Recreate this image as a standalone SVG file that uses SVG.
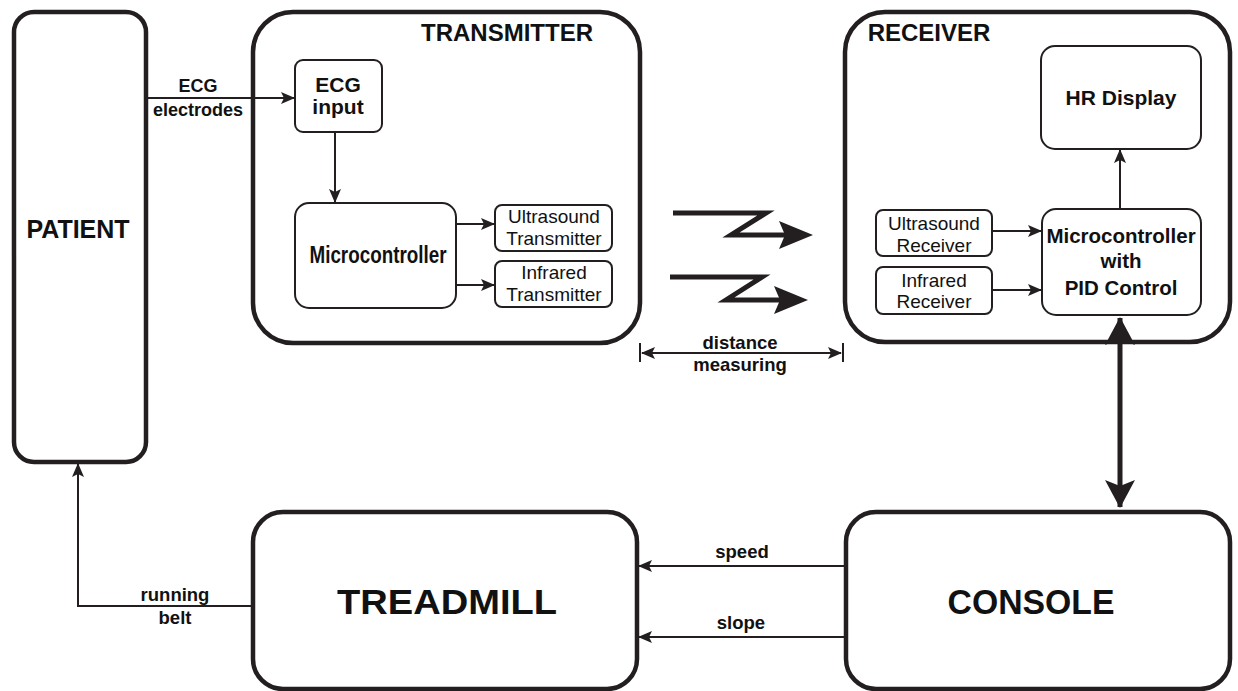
<svg xmlns="http://www.w3.org/2000/svg" width="1238" height="691" viewBox="0 0 1238 691">
<defs>
<style>
.big{fill:#fff;stroke:#231f20;stroke-width:4.5}
.small{fill:#fff;stroke:#231f20;stroke-width:2}
.ln{fill:none;stroke:#231f20;stroke-width:2}
.t{font-family:"Liberation Sans",Arial,sans-serif;fill:#111;text-anchor:middle}
.b{font-weight:bold}
</style>
<marker id="ah" viewBox="0 0 14 12" refX="13" refY="6" markerWidth="14" markerHeight="12" markerUnits="userSpaceOnUse" orient="auto">
<path d="M0,0 L14,6 L0,12 L3,6 Z" fill="#231f20"/>
</marker>
<marker id="ahs" viewBox="0 0 14 12" refX="13" refY="6" markerWidth="14" markerHeight="12" markerUnits="userSpaceOnUse" orient="auto-start-reverse">
<path d="M0,0 L14,6 L0,12 L3,6 Z" fill="#231f20"/>
</marker>
<marker id="big" viewBox="0 0 28 30" refX="27" refY="15" markerWidth="28" markerHeight="30" markerUnits="userSpaceOnUse" orient="auto-start-reverse">
<path d="M0,0 L28,15 L0,30 L6,15 Z" fill="#231f20"/>
</marker>
</defs>

<g id="patient">
<rect class="big" x="14" y="12" width="132" height="450" rx="20"/>
<text class="t b" x="78" y="238" font-size="25">PATIENT</text>
</g>

<g id="transmitter">
<rect class="big" x="253" y="12" width="387" height="331" rx="40"/>
<text class="t b" x="507" y="41" font-size="24">TRANSMITTER</text>
</g>
<g id="ecg-input">
<rect class="small" x="295" y="60" width="87" height="72" rx="8"/>
<text class="t b" x="338" y="92" font-size="21">ECG</text>
<text class="t b" x="338" y="114" font-size="21">input</text>
</g>
<g id="tx-mcu">
<rect class="small" x="295" y="203" width="161" height="105" rx="14"/>
<text class="t b" x="378" y="263" font-size="24" textLength="137" lengthAdjust="spacingAndGlyphs">Microcontroller</text>
</g>
<g id="us-tx">
<rect class="small" x="495" y="205" width="117" height="46" rx="7"/>
<text class="t" x="554" y="223" font-size="19">Ultrasound</text>
<text class="t" x="554" y="245" font-size="19">Transmitter</text>
</g>
<g id="ir-tx">
<rect class="small" x="495" y="261" width="117" height="46" rx="7"/>
<text class="t" x="554" y="279" font-size="19">Infrared</text>
<text class="t" x="554" y="301" font-size="19">Transmitter</text>
</g>

<g id="receiver">
<rect class="big" x="845" y="12" width="385" height="330" rx="40"/>
<text class="t b" x="929" y="41" font-size="24">RECEIVER</text>
</g>
<g id="hr-display">
<rect class="small" x="1041" y="46" width="160" height="103" rx="14"/>
<text class="t b" x="1121" y="105" font-size="21">HR Display</text>
</g>
<g id="us-rx">
<rect class="small" x="876" y="210" width="116" height="46" rx="7"/>
<text class="t" x="934" y="230" font-size="19">Ultrasound</text>
<text class="t" x="934" y="252" font-size="19">Receiver</text>
</g>
<g id="ir-rx">
<rect class="small" x="876" y="267" width="116" height="47" rx="7"/>
<text class="t" x="934" y="287" font-size="19">Infrared</text>
<text class="t" x="934" y="308" font-size="19">Receiver</text>
</g>
<g id="rx-mcu">
<rect class="small" x="1042" y="209" width="159" height="106" rx="14"/>
<text class="t b" x="1121" y="243" font-size="20.5">Microcontroller</text>
<text class="t b" x="1121" y="268" font-size="20.5">with</text>
<text class="t b" x="1121" y="295" font-size="20.5">PID Control</text>
</g>

<g id="treadmill">
<rect class="big" x="253" y="512" width="384" height="177" rx="30"/>
<text class="t b" x="447" y="614" font-size="35" textLength="220" lengthAdjust="spacingAndGlyphs">TREADMILL</text>
</g>
<g id="console">
<rect class="big" x="846" y="512" width="384" height="177" rx="30"/>
<text class="t b" x="1031" y="614" font-size="35" textLength="167" lengthAdjust="spacingAndGlyphs">CONSOLE</text>
</g>

<g id="connectors">
<line class="ln" x1="148" y1="98" x2="294" y2="98" marker-end="url(#ah)"/>
<text class="t b" x="198" y="92" font-size="18">ECG</text>
<text class="t b" x="198" y="116" font-size="18">electrodes</text>
<line class="ln" x1="335" y1="133" x2="335" y2="202" marker-end="url(#ah)"/>
<line class="ln" x1="457" y1="224" x2="494" y2="224" marker-end="url(#ah)"/>
<line class="ln" x1="457" y1="285" x2="494" y2="285" marker-end="url(#ah)"/>
<line class="ln" x1="993" y1="231" x2="1041" y2="231" marker-end="url(#ah)"/>
<line class="ln" x1="993" y1="290" x2="1041" y2="290" marker-end="url(#ah)"/>
<line class="ln" x1="1120" y1="208" x2="1120" y2="150" marker-end="url(#ah)"/>

<path d="M673,213 L766,213 L731,235 L786,235" fill="none" stroke="#231f20" stroke-width="5" stroke-linejoin="miter"/>
<path d="M813,235 L779,221 L785,235 L779,249 Z" fill="#231f20"/>
<path d="M670,277 L762,277 L726,300 L782,300" fill="none" stroke="#231f20" stroke-width="5" stroke-linejoin="miter"/>
<path d="M808,300 L774,286 L780,300 L774,314 Z" fill="#231f20"/>

<line class="ln" x1="640" y1="343" x2="640" y2="362"/>
<line class="ln" x1="843" y1="343" x2="843" y2="362"/>
<line class="ln" x1="642" y1="353" x2="841" y2="353" marker-start="url(#ahs)" marker-end="url(#ah)"/>
<text class="t b" x="740" y="349" font-size="18.5">distance</text>
<text class="t b" x="740" y="371" font-size="18.5">measuring</text>

<line x1="1120" y1="318" x2="1120" y2="507" stroke="#231f20" stroke-width="5" marker-start="url(#big)" marker-end="url(#big)"/>

<line class="ln" x1="845" y1="566" x2="639" y2="566" marker-end="url(#ah)"/>
<text class="t b" x="742" y="558" font-size="18.5">speed</text>
<line class="ln" x1="845" y1="637" x2="639" y2="637" marker-end="url(#ah)"/>
<text class="t b" x="741" y="629" font-size="18.5">slope</text>

<polyline class="ln" points="252,606 78,606 78,464" marker-end="url(#ah)"/>
<text class="t b" x="175" y="601" font-size="18.5">running</text>
<text class="t b" x="175" y="624" font-size="18.5">belt</text>
</g>
</svg>
